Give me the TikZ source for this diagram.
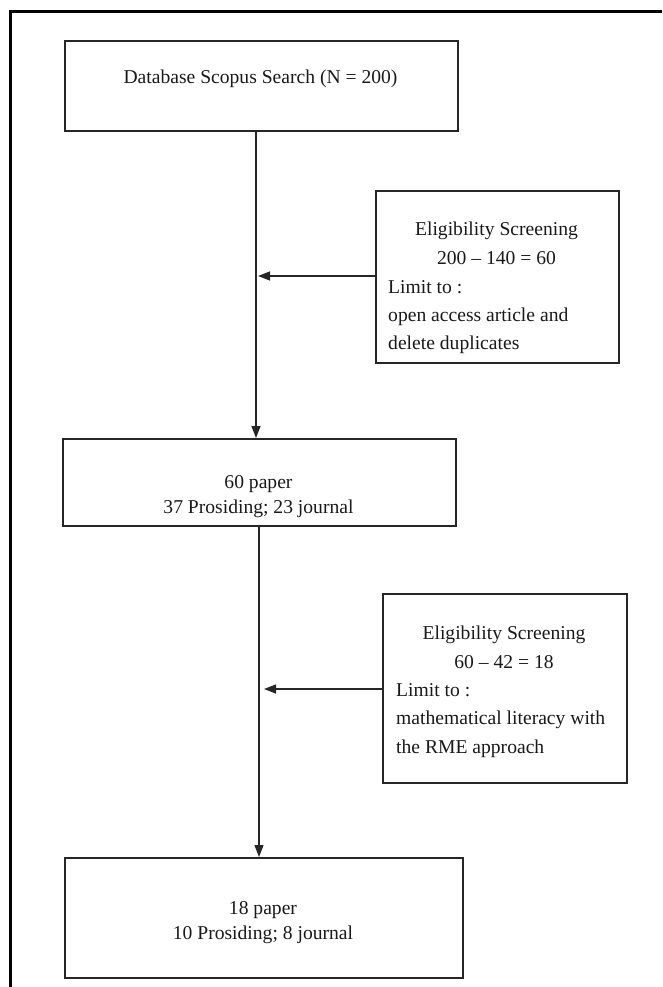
\documentclass[tikz,border=0pt]{standalone}
\usepackage{fontspec}
\setmainfont{Liberation Serif}
\usetikzlibrary{arrows.meta}
\begin{document}
\begin{tikzpicture}[x=1pt,y=-1pt,
  box/.style={draw=black!85, line width=1.8pt, inner sep=0pt, anchor=north west},
  txt/.style={inner sep=0pt, anchor=base, font=\fontsize{19.6}{24}\selectfont, text=black!90},
  ltxt/.style={txt, anchor=base west},
  conn/.style={draw=black!85, line width=1.3pt, -{Triangle[length=12pt,width=9pt]}}]
\useasboundingbox (0,0) rectangle (662,987);
\draw[line width=3pt] (10,987) -- (10,12) -- (662,12);

% main boxes
\node[box, minimum width=393pt, minimum height=90pt] (b1) at (64,40) {};
\node[box, minimum width=393pt, minimum height=87pt] (b2) at (62,438) {};
\node[box, minimum width=398pt, minimum height=120pt] (b3) at (64,857) {};
% screening boxes
\node[box, minimum width=243pt, minimum height=172pt] (s1) at (375,190) {};
\node[box, minimum width=244pt, minimum height=189pt] (s2) at (382,593) {};

% texts
\node[txt] (t1) at (260.5,83.5) {Database Scopus Search (N = 200)};
\node[txt] (t2a) at (258.5,488.5) {60 paper};
\node[txt] (t2b) at (258.5,513.5) {37 Prosiding; 23 journal};
\node[txt] (t3a) at (263,914.5) {18 paper};
\node[txt] (t3b) at (263,939.5) {10 Prosiding; 8 journal};

\node[txt] (s1a) at (496.5,235.5) {Eligibility Screening};
\node[txt] (s1b) at (496.5,264.5) {200 -- 140 = 60};
\node[ltxt] (s1c) at (388,293.5) {Limit to :};
\node[ltxt] (s1d) at (388,321.5) {open access article and};
\node[ltxt] (s1e) at (388,349.5) {delete duplicates};

\node[txt] (s2a) at (504,639.5) {Eligibility Screening};
\node[txt] (s2b) at (504,668.5) {60 -- 42 = 18};
\node[ltxt] (s2c) at (396,696.5) {Limit to :};
\node[ltxt] (s2d) at (396,724.5) {mathematical literacy with};
\node[ltxt] (s2e) at (396,753.5) {the RME approach};

% connectors
\coordinate (v1) at (256,0);
\coordinate (v2) at (259,0);
\coordinate (a1) at (258,276);
\coordinate (a2) at (264,689);
\draw[conn] (b1.south -| v1) -- (b2.north -| v1);
\draw[conn] (b2.south -| v2) -- (b3.north -| v2);
\draw[conn] (s1.west |- a1) -- (a1);
\draw[conn] (s2.west |- a2) -- (a2);
\end{tikzpicture}
\end{document}
